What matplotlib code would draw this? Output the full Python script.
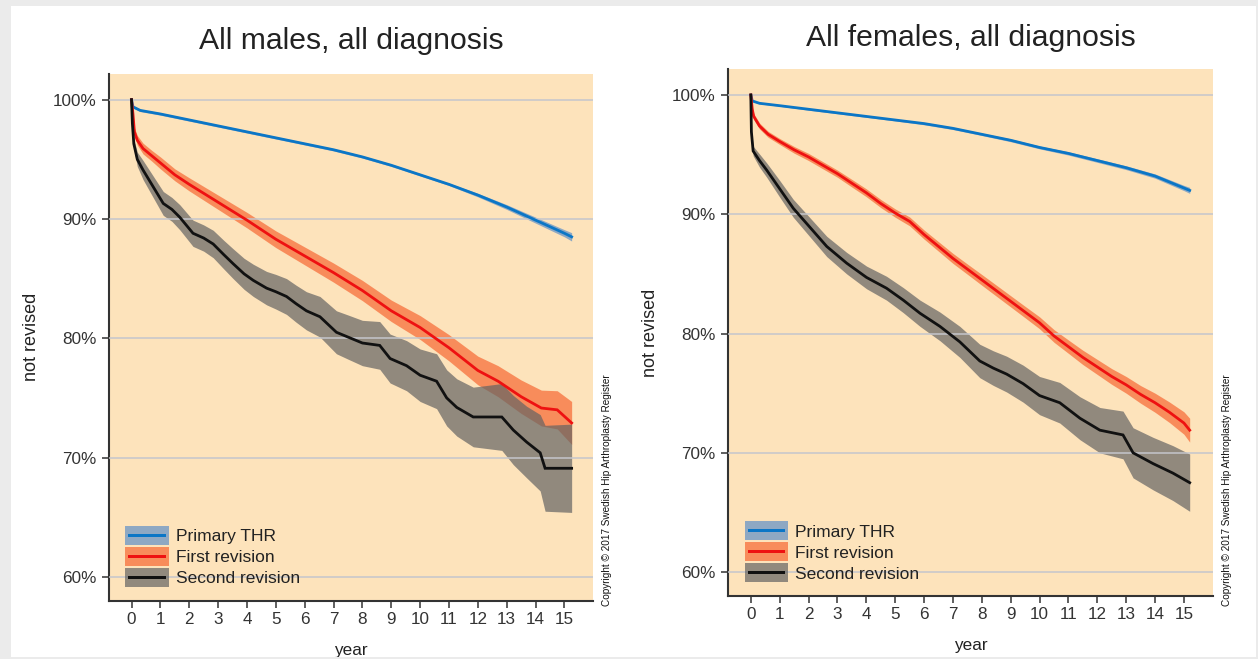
import matplotlib
matplotlib.use("Agg")
import matplotlib.pyplot as plt
from matplotlib.patches import Patch, Rectangle
from matplotlib.legend_handler import HandlerPatch
from matplotlib.ticker import FuncFormatter

plt.rcParams['font.family'] = ['Liberation Sans', 'DejaVu Sans']

# ---- males, all diagnosis ----
m_prim_year = [0, 0.05, 0.3, 1, 2, 3, 4, 5, 6, 7, 8, 9, 10, 11, 12, 13, 14, 15, 15.25]
m_prim_surv = [100, 99.4, 99.1, 98.8, 98.3, 97.8, 97.3, 96.8, 96.3, 95.8, 95.2, 94.5, 93.7, 92.9, 92.0, 91.0, 89.9, 88.8, 88.5]
m_prim_lo = [100, 99.3, 99.0, 98.7, 98.2, 97.7, 97.2, 96.7, 96.2, 95.7, 95.1, 94.4, 93.6, 92.8, 91.85, 90.8, 89.65, 88.5, 88.15]
m_prim_hi = [100, 99.5, 99.2, 98.9, 98.4, 97.9, 97.4, 96.9, 96.4, 95.9, 95.3, 94.6, 93.8, 93.0, 92.15, 91.2, 90.15, 89.1, 88.85]

m_rev1_year = [0, 0.05, 0.1, 0.2, 0.4, 0.7, 1, 1.5, 2, 3, 4, 5, 6, 7, 8, 9, 10, 11, 12, 12.7, 13.5, 14.2, 14.75, 15.25]
m_rev1_surv = [100, 98.8, 97.3, 96.6, 95.9, 95.3, 94.7, 93.7, 92.9, 91.4, 89.9, 88.3, 86.9, 85.5, 84.0, 82.3, 80.9, 79.2, 77.3, 76.4, 75.1, 74.15, 74.0, 72.9]
m_rev1_lo = [100, 98.5, 96.95, 96.2, 95.45, 94.85, 94.2, 93.2, 92.35, 90.8, 89.25, 87.6, 86.15, 84.7, 83.15, 81.4, 79.9, 78.1, 76.1, 75.1, 73.7, 72.65, 72.4, 71.1]
m_rev1_hi = [100, 99.1, 97.65, 97.0, 96.35, 95.75, 95.2, 94.2, 93.45, 92.0, 90.55, 89.0, 87.65, 86.3, 84.85, 83.2, 81.9, 80.3, 78.5, 77.7, 76.5, 75.65, 75.6, 74.7]

m_rev2_year = [0, 0.03, 0.08, 0.2, 0.4, 0.75, 1.1, 1.4, 1.67, 2.13, 2.5, 2.83, 3.2, 3.52, 3.9, 4.22, 4.68, 5.0, 5.37, 5.7,
               6.06, 6.53, 7.1, 7.5, 8.0, 8.6, 8.96, 9.53, 10.0, 10.57, 10.92, 11.27, 11.84, 12.83, 13.23, 13.69, 14.16, 14.33, 15.25]
m_rev2_surv = [100, 98.0, 96.3, 95.0, 94.1, 92.7, 91.3, 90.8, 90.15, 88.8, 88.4, 87.9, 87.0, 86.25, 85.4, 84.85, 84.2, 83.9, 83.5, 82.9,
               82.3, 81.8, 80.5, 80.1, 79.6, 79.4, 78.3, 77.7, 76.9, 76.4, 75.0, 74.2, 73.4, 73.4, 72.3, 71.3, 70.4, 69.1, 69.1]
m_rev2_lo = [100, 97.7, 95.9, 94.4, 93.3, 91.8, 90.3, 89.8, 89.1, 87.7, 87.3, 86.75, 85.8, 85.0, 84.1, 83.5, 82.8, 82.45, 82.0, 81.35,
             80.7, 80.1, 78.7, 78.25, 77.7, 77.4, 76.25, 75.6, 74.7, 74.1, 72.65, 71.8, 70.9, 70.6, 69.4, 68.3, 67.2, 65.5, 65.4]
m_rev2_hi = [100, 98.3, 96.7, 95.6, 94.9, 93.6, 92.3, 91.8, 91.2, 89.9, 89.5, 89.05, 88.2, 87.5, 86.7, 86.2, 85.6, 85.35, 85.0, 84.45,
             83.9, 83.5, 82.3, 81.95, 81.5, 81.4, 80.35, 79.8, 79.1, 78.7, 77.35, 76.6, 75.9, 76.2, 75.2, 74.3, 73.6, 72.7, 72.8]

# ---- females, all diagnosis ----
f_prim_year = [0, 0.05, 0.3, 1, 2, 3, 4, 5, 6, 7, 8, 9, 10, 11, 12, 13, 14, 15, 15.2]
f_prim_surv = [100, 99.5, 99.3, 99.1, 98.8, 98.5, 98.2, 97.9, 97.6, 97.2, 96.7, 96.2, 95.6, 95.1, 94.5, 93.9, 93.2, 92.2, 92.0]
f_prim_lo = [100, 99.45, 99.25, 99.05, 98.72, 98.42, 98.12, 97.82, 97.5, 97.1, 96.6, 96.08, 95.48, 94.96, 94.35, 93.74, 93.02, 91.98, 91.75]
f_prim_hi = [100, 99.55, 99.35, 99.15, 98.88, 98.58, 98.28, 97.98, 97.7, 97.3, 96.8, 96.32, 95.72, 95.24, 94.65, 94.06, 93.38, 92.42, 92.25]

f_rev1_year = [0, 0.05, 0.1, 0.3, 0.6, 1.0, 1.5, 2.0, 2.5, 3.0, 3.5, 4.0, 4.5, 5.0, 5.5, 6.0, 6.5, 7.0, 7.5, 8.0, 8.5, 9.0,
               9.5, 10.0, 10.5, 11.0, 11.5, 12.0, 12.5, 13.0, 13.5, 14.0, 14.5, 15.0, 15.2]
f_rev1_surv = [100, 98.8, 98.2, 97.4, 96.7, 96.1, 95.4, 94.8, 94.1, 93.4, 92.6, 91.8, 90.9, 90.1, 89.4, 88.3, 87.3, 86.3, 85.4, 84.5, 83.6, 82.7,
               81.8, 80.9, 79.8, 78.9, 78.0, 77.2, 76.4, 75.7, 74.9, 74.2, 73.4, 72.5, 71.9]
f_rev1_lo = [100, 98.55, 97.95, 97.15, 96.45, 95.85, 95.12, 94.5, 93.8, 93.1, 92.28, 91.47, 90.56, 89.75, 89.03, 87.92, 86.9, 85.88, 84.97, 84.05, 83.14, 82.23,
             81.32, 80.4, 79.27, 78.34, 77.4, 76.57, 75.74, 75.0, 74.16, 73.4, 72.54, 71.56, 70.9]
f_rev1_hi = [100, 99.05, 98.45, 97.65, 96.95, 96.35, 95.68, 95.1, 94.4, 93.7, 92.92, 92.13, 91.24, 90.45, 89.77, 88.68, 87.7, 86.72, 85.83, 84.95, 84.06, 83.17,
             82.28, 81.4, 80.33, 79.46, 78.6, 77.83, 77.06, 76.4, 75.64, 75.0, 74.26, 73.44, 72.9]

f_rev2_year = [0, 0.02, 0.08, 0.3, 0.55, 1.01, 1.47, 2.05, 2.63, 3.32, 4.01, 4.7, 5.28, 5.86, 6.55, 7.24, 7.93, 8.4, 8.86, 9.43,
               10.0, 10.7, 11.4, 12.09, 12.89, 13.24, 13.93, 14.62, 15.2]
f_rev2_surv = [100, 96.9, 95.3, 94.5, 93.7, 92.1, 90.5, 88.9, 87.3, 85.9, 84.7, 83.8, 82.8, 81.7, 80.6, 79.3, 77.7, 77.1, 76.6, 75.8,
               74.8, 74.2, 72.9, 71.9, 71.5, 70.0, 69.1, 68.3, 67.5]
f_rev2_lo = [100, 96.6, 94.9, 93.95, 93.1, 91.4, 89.75, 88.1, 86.45, 85.0, 83.75, 82.8, 81.75, 80.6, 79.4, 78.0, 76.3, 75.65, 75.1, 74.25,
             73.2, 72.5, 71.1, 70.0, 69.5, 67.9, 66.9, 66.0, 65.1]
f_rev2_hi = [100, 97.2, 95.7, 95.05, 94.3, 92.8, 91.25, 89.7, 88.15, 86.8, 85.65, 84.8, 83.85, 82.8, 81.8, 80.6, 79.1, 78.55, 78.1, 77.35,
             76.4, 75.9, 74.7, 73.8, 73.5, 72.1, 71.3, 70.6, 69.9]

labels = ["Primary THR", "First revision", "Second revision"]
line_colors = ["#0b76c6", "#ee1111", "#111111"]
band_colors = [(68/255, 130/255, 201/255, 0.6), (246/255, 83/255, 28/255, 0.6), (99/255, 99/255, 99/255, 0.7)]
year_ticks = list(range(0, 16))
pct_ticks = [60, 70, 80, 90, 100]

W, H = 1258, 659
fig = plt.figure(figsize=(W / 100, H / 100), dpi=100)
fig.patch.set_facecolor("#ebebeb")
fig.add_artist(Rectangle((11 / W, 2.5 / H), 1245 / W, 650.5 / H, transform=fig.transFigure,
                         facecolor="white", edgecolor="none", zorder=-10))


def box_patch(legend, orig_handle, xdescent, ydescent, width, height, fontsize):
    return Rectangle((-xdescent, -ydescent), width, height)


def thin_patch(legend, orig_handle, xdescent, ydescent, width, height, fontsize):
    # line drawn through the middle of the band box
    return Rectangle((-xdescent + 2, -ydescent + height / 2 - 1.1), width - 4, 2.2)


def panel(rect, title, title_base, series, copy_x):
    ax = fig.add_axes(rect)
    ax.set_facecolor("#fde3bb")
    for i, (yr, s, lo, hi) in enumerate(series):
        ax.fill_between(yr, lo, hi, color=band_colors[i], linewidth=0, zorder=2)
    for i, (yr, s, lo, hi) in enumerate(series):
        ax.plot(yr, s, color=line_colors[i], lw=2.0, zorder=4, solid_joinstyle="miter")
    ax.set_xlim(-0.78, 15.99)
    ax.set_ylim(58.0, 102.15)
    ax.set_xticks(year_ticks)
    ax.set_yticks(pct_ticks)
    ax.yaxis.set_major_formatter(FuncFormatter(lambda v, p: "%d%%" % v))
    ax.yaxis.grid(True, color="#c4c6cc", lw=1.1, zorder=3)
    ax.set_axisbelow(False)
    for sp in ["top", "right"]:
        ax.spines[sp].set_visible(False)
    for sp in ["left", "bottom"]:
        ax.spines[sp].set_color("#333333")
        ax.spines[sp].set_linewidth(1.5)
    ax.tick_params(axis="both", colors="#333333", labelcolor="#333333", length=5, width=1.1, labelsize=12.3)
    ax.tick_params(axis="y", pad=4)
    ax.tick_params(axis="x", pad=3)
    ax.set_ylabel("not revised", fontsize=13, color="#222222")
    ax.yaxis.set_label_coords(-0.143, 0.5)
    ax.set_xlabel("year", fontsize=12.3, color="#222222")
    ax.xaxis.set_label_coords(0.5, -0.08)

    handles = []
    hmap = {}
    for i in range(3):
        band = Patch(facecolor=band_colors[i], edgecolor="none")
        line = Patch(facecolor=line_colors[i], edgecolor="none")
        hmap[band] = HandlerPatch(patch_func=box_patch)
        hmap[line] = HandlerPatch(patch_func=thin_patch)
        handles.append((band, line))
    ax.legend(handles, labels, loc="lower left", bbox_to_anchor=(0.034, 0.026), frameon=False,
              fontsize=12.5, handlelength=2.5, handleheight=1.3, labelspacing=0.12,
              handletextpad=0.4, borderpad=0, borderaxespad=0, labelcolor="#222222",
              handler_map=hmap)

    x0, y0, w, h = rect
    fig.text(x0 + w / 2, 1 - title_base / H, title, ha="center", va="baseline",
             fontsize=21.7, color="#222222")
    fig.text(copy_x / W, 1 - 606 / H, "Copyright \u00a9 2017 Swedish Hip Arthroplasty Register",
             rotation=90, ha="center", va="bottom", fontsize=7.2, color="#111111")
    return ax


panel([109 / W, 58.3 / H, 484 / W, 526.7 / H], "All males, all diagnosis", 49.3,
      [(m_prim_year, m_prim_surv, m_prim_lo, m_prim_hi),
       (m_rev1_year, m_rev1_surv, m_rev1_lo, m_rev1_hi),
       (m_rev2_year, m_rev2_surv, m_rev2_lo, m_rev2_hi)], 607)
panel([728.3 / W, 63 / H, 484.2 / W, 526.7 / H], "All females, all diagnosis", 46,
      [(f_prim_year, f_prim_surv, f_prim_lo, f_prim_hi),
       (f_rev1_year, f_rev1_surv, f_rev1_lo, f_rev1_hi),
       (f_rev2_year, f_rev2_surv, f_rev2_lo, f_rev2_hi)], 1227)

# gray strip of the screenshot cuts the bottom of the "year" labels
fig.add_artist(Rectangle((0, 0), 1, 2.5 / H, transform=fig.transFigure,
                         facecolor="#ebebeb", edgecolor="none", zorder=100))

fig.savefig("out.png", dpi=100, facecolor=fig.get_facecolor())
